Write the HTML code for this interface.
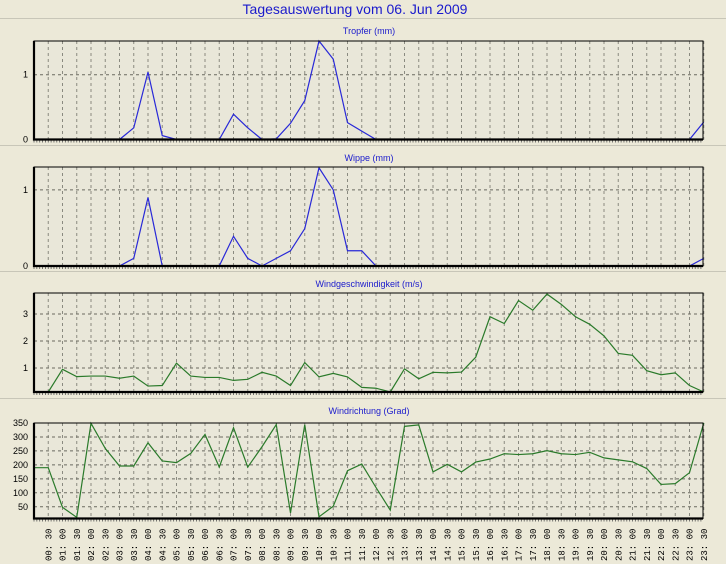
<!DOCTYPE html>
<html><head><meta charset="utf-8">
<style>
html,body{margin:0;padding:0;background:#ECE9D8;}
svg{display:block;font-family:"Liberation Sans",sans-serif;}
</style></head>
<body>
<svg id="chart" width="726" height="564" viewBox="0 0 726 564" xmlns="http://www.w3.org/2000/svg">
<rect x="0" y="0" width="726" height="564" fill="#ECE9D8"/>
<text x="355" y="14" text-anchor="middle" font-size="14" fill="#1a1acc">Tagesauswertung vom 06. Jun 2009</text>
<line x1="0" y1="18.5" x2="726" y2="18.5" stroke="#c8c6b8"/>
<line x1="0" y1="145.5" x2="726" y2="145.5" stroke="#c8c6b8"/>
<line x1="0" y1="271.5" x2="726" y2="271.5" stroke="#c8c6b8"/>
<line x1="0" y1="398.5" x2="726" y2="398.5" stroke="#c8c6b8"/>
</svg>
<script>
const timeLabels = ["00:30","01:00","01:30","02:00","02:30","03:00","03:30","04:00","04:30","05:00","05:30","06:00","06:30","07:00","07:30","08:00","08:30","09:00","09:30","10:00","10:30","11:00","11:30","12:00","12:30","13:00","13:30","14:00","14:30","15:00","15:30","16:00","16:30","17:00","17:30","18:00","18:30","19:00","19:30","20:00","20:30","21:00","21:30","22:00","22:30","23:00","23:30"];
const tropfer = [0,0,0,0,0,0,0,0.18,1.04,0.06,0,0,0,0,0.39,0.18,0,0.01,0.25,0.6,1.52,1.24,0.26,0.13,0,0,0,0,0,0,0,0,0,0,0,0,0,0,0,0,0,0,0,0,0,0,0,0.27];
const wippe = [0,0,0,0,0,0,0,0.1,0.9,0,0,0,0,0,0.39,0.1,0,0.1,0.2,0.49,1.29,1.0,0.2,0.2,0,0,0,0,0,0,0,0,0,0,0,0,0,0,0,0,0,0,0,0,0,0,0,0.1];
const windSpeed = [0.1,0.1,0.95,0.68,0.7,0.7,0.62,0.7,0.33,0.35,1.18,0.7,0.65,0.65,0.54,0.58,0.84,0.7,0.35,1.2,0.67,0.8,0.67,0.28,0.25,0.1,0.97,0.6,0.84,0.82,0.85,1.4,2.9,2.65,3.5,3.14,3.74,3.36,2.9,2.62,2.19,1.54,1.47,0.9,0.75,0.82,0.35,0.1];
const windDir = [190,190,48,12,349,259,196,196,279,214,208,241,309,192,333,192,265,344,28,344,14,52,179,203,119,38,338,343,175,202,175,210,221,240,237,240,251,240,237,245,225,218,211,187,130,133,172,351];
const tropferTicks = [0,1];
const wippeTicks = [0,1];
const speedTicks = [1,2,3];
const dirTicks = [50,100,150,200,250,300,350];

const NS="http://www.w3.org/2000/svg";
const svg=document.getElementById('chart');
const X0=34, STEP=14.25, X1=703;
function xAt(i){return X0+STEP*i;}
function mk(tag,attrs,parent){const e=document.createElementNS(NS,tag);for(const k in attrs)e.setAttribute(k,attrs[k]);(parent||svg).appendChild(e);return e;}

const panels=[
 {name:'tropfer',title:'Tropfer (mm)',titleY:34,top:41,bottom:139.5,min:0,max:1.52,data:tropfer,ticks:tropferTicks,color:'#2828d8'},
 {name:'wippe',title:'Wippe (mm)',titleY:161,top:167,bottom:266,min:0,max:1.3,data:wippe,ticks:wippeTicks,color:'#2828d8'},
 {name:'windgeschwindigkeit',title:'Windgeschwindigkeit (m/s)',titleY:287,top:293,bottom:392,min:0.11,max:3.78,data:windSpeed,ticks:speedTicks,color:'#2a7a2a'},
 {name:'windrichtung',title:'Windrichtung (Grad)',titleY:414,top:423,bottom:518.5,min:8,max:350,data:windDir,ticks:dirTicks,color:'#2a7a2a'}
];

panels.forEach(p=>{
  const g=mk('g',{});
  
  
  const y=v=>p.bottom-(v-p.min)/(p.max-p.min)*(p.bottom-p.top);
  const t=mk('text',{x:369,y:p.titleY,'text-anchor':'middle','font-size':9,fill:'#1a1acc'},g);
  t.textContent=p.title;
  
  
  const bg=mk('rect',{x:X0,y:p.top,width:X1-X0,height:p.bottom-p.top,fill:'#E9E7D9'},g);
  
  
  for(let i=1;i<=47;i++){
    const l=mk('line',{x1:xAt(i),y1:p.top,x2:xAt(i),y2:p.bottom,stroke:'#8a8a80','stroke-width':1,'stroke-dasharray':'3,3'},g);
    
    
  }
  p.ticks.forEach(v=>{
    const yy=y(v);
    if(v>p.min+0.001){
      const l=mk('line',{x1:X0,y1:yy,x2:X1,y2:yy,stroke:'#6a6a60','stroke-width':1,'stroke-dasharray':'3,3'},g);
      
      
    }
    const tx=mk('text',{x:X0-6,y:(v<=p.min+0.001?p.bottom:yy)+3,'text-anchor':'end','font-size':9,fill:'#000'},g);
    tx.textContent=String(v);
    
    
  });
  for(let k=0;k<=235;k++){
    const xx=X0+STEP/5*k; if(xx>X1)break;
    const m=mk('line',{x1:xx,y1:p.bottom,x2:xx,y2:p.bottom+3,stroke:'#555','stroke-width':0.8},g);
    
    
  }
  const pts=p.data.map((v,i)=>xAt(i).toFixed(2)+','+Math.min(p.bottom,Math.max(p.top,y(v))).toFixed(2)).join(' ');
  const pl=mk('polyline',{points:pts,fill:'none',stroke:p.color,'stroke-width':1.2},g);
  
  
  const fr=mk('rect',{x:X0,y:p.top,width:X1-X0,height:p.bottom-p.top,fill:'none',stroke:'#000','stroke-width':1},g);
  
  
  const ax=mk('path',{d:`M${X0},${p.top} L${X0},${p.bottom} L${X1},${p.bottom}`,fill:'none',stroke:'#000','stroke-width':2.2},g);
  
  
});

timeLabels.forEach((lab,i)=>{
  const xx=xAt(i+1)+3;
  const t=mk('text',{x:0,y:0,transform:`translate(${xx},561) rotate(-90)`,'font-size':9,fill:'#000','font-family':'"Liberation Mono",monospace'});
  t.textContent=lab.replace(':',': ');
  
  
});
</script>
</body></html>
